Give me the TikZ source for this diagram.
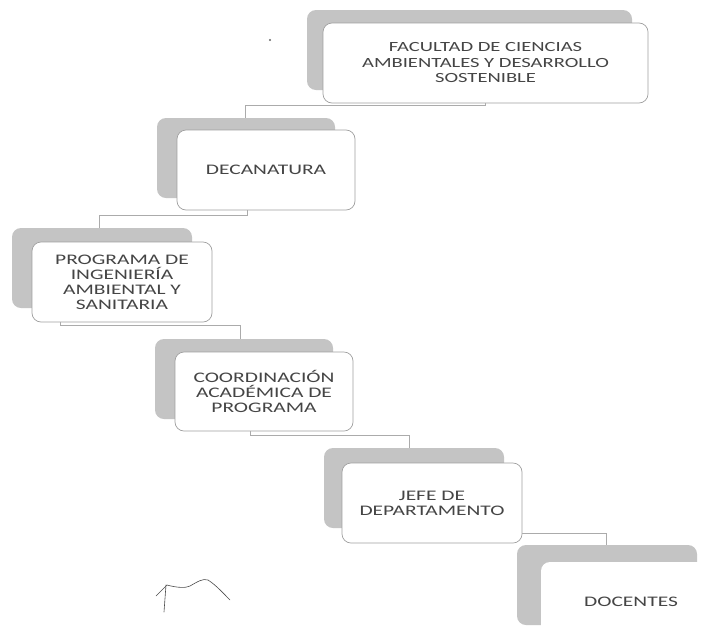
\documentclass[tikz,border=0pt]{standalone}
\usepackage{fontspec}
\setmainfont{Carlito}[FakeStretch=1.47]
\definecolor{shade}{HTML}{C4C4C4}
\definecolor{edge}{HTML}{A0A0A0}
\definecolor{txt}{HTML}{454545}
\definecolor{lin}{HTML}{ABABAB}
\tikzset{
  front/.style={draw=edge, fill=white, line width=0.7pt, rounded corners=9pt,
    minimum height=80pt, inner sep=0pt, align=center, text=txt,
    font=\fontsize{14.6}{14.9}\selectfont},
  back/.style={fill=shade, rounded corners=9pt, minimum height=80pt, inner sep=0pt},
  conn/.style={draw=lin, line width=0.7pt},
  scribble/.style={draw=black!70, line width=0.6pt, line cap=round}
}
\begin{document}
\begin{tikzpicture}[x=1pt,y=-1pt]
\useasboundingbox (0,0) rectangle (708,635);
\clip (0,0) rectangle (708,635);
\fill[white] (0,0) rectangle (708,635);

% back shadow boxes
\node[back, minimum width=325pt] (B1) at (469.5,50) {};
\node[back, minimum width=178pt] (B2) at (246,158) {};
\node[back, minimum width=180pt] (B3) at (102,268) {};
\node[back, minimum width=178pt] (B4) at (244,379) {};
\node[back, minimum width=180pt] (B5) at (414,488) {};
\node[back, minimum width=180pt] (B6) at (607,585) {};

% centres of the front boxes
\path (485.5,63) coordinate (p1) (266,170) coordinate (p2) (122,282) coordinate (p3)
      (264,391.5) coordinate (p4) (432,503) coordinate (p5) (631,602) coordinate (p6);

% connectors (behind the front boxes)
\coordinate (c1) at (485.5,103);
\coordinate (c2) at (247,210);
\coordinate (c3) at (60,322);
\coordinate (c4) at (250,431);
\coordinate (c5) at (522,533);
\draw[conn] (c1) -- ++(0,2) -| ([xshift=89pt]B2.north west);
\draw[conn] (c2) -- ++(0,5) -| ([xshift=88pt]B3.north west);
\draw[conn] (c3) -- ++(0,3) -| ([xshift=86pt]B4.north west);
\draw[conn] (c4) -- ++(0,4) -| ([xshift=86pt]B5.north west);
\draw[conn] (c5) -| ([xshift=90pt]B6.north west);

% front boxes
\node[front, minimum width=325pt, font=\fontsize{14}{15.5}\selectfont] (F1) at (p1)
  {FACULTAD DE CIENCIAS\\AMBIENTALES Y DESARROLLO\\SOSTENIBLE};
\node[front, minimum width=178pt] (F2) at (p2) {DECANATURA};
\node[front, minimum width=180pt] (F3) at (p3) {PROGRAMA DE\\INGENIERÍA\\AMBIENTAL Y\\SANITARIA};
\node[front, minimum width=178pt, minimum height=79pt] (F4) at (p4) {COORDINACIÓN\\ACADÉMICA DE\\PROGRAMA};
\node[front, minimum width=180pt] (F5) at (p5) {JEFE DE\\DEPARTAMENTO};
\node[front, draw=none, minimum width=180pt] (F6) at (p6) {DOCENTES};

% scan marks
\fill[black!60] (270,40) circle (1.2pt);
\draw[scribble] (156,596) -- (167,585);
\draw[scribble] (166,585) -- (164,612);
\draw[scribble] (167,585) .. controls (178,588) and (186,588) .. (190,586)
  .. controls (197,582) and (203,578) .. (208,580)
  .. controls (216,585) and (224,594) .. (230,600);
\end{tikzpicture}
\end{document}
